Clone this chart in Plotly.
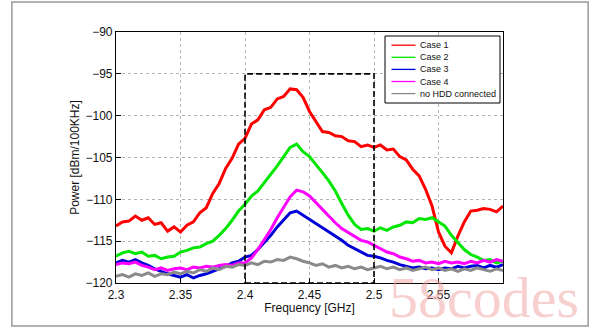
import numpy as np
import plotly.graph_objects as go

# Frequency sweep, 2.300 .. 2.600 GHz in 5 MHz steps
freq_ghz = np.round(np.linspace(2.30, 2.60, 61), 3)

case1 = [-113.2, -112.7, -112.6, -112.0, -112.5, -112.2, -113.0, -112.8, -113.8, -113.3,
         -113.9, -113.1, -112.7, -111.6, -111.0, -109.3, -108.1, -106.3, -105.1, -103.4,
         -102.7, -101.0, -100.5, -99.3, -99.0, -98.0, -97.7, -96.8, -96.9, -97.8,
         -99.5, -100.7, -101.9, -102.0, -102.4, -102.5, -103.0, -103.1, -103.7, -103.5,
         -103.8, -103.5, -104.1, -104.0, -104.9, -105.3, -106.4, -107.2, -108.8, -110.8,
         -113.9, -115.6, -116.4, -114.4, -112.7, -111.4, -111.3, -111.1, -111.2, -111.5,
         -110.8]

case2 = [-116.8, -116.4, -116.2, -116.5, -116.3, -116.8, -116.7, -117.1, -116.9, -116.8,
         -116.3, -116.1, -115.8, -115.7, -115.3, -115.0, -114.3, -113.5, -112.5, -111.4,
         -110.6, -109.6, -109.0, -108.0, -107.1, -106.0, -104.9, -103.8, -103.4, -104.3,
         -104.9, -105.8, -106.8, -107.8, -109.0, -110.5, -111.9, -113.0, -113.6, -113.5,
         -113.8, -113.4, -113.7, -113.3, -113.1, -112.7, -112.8, -112.3, -112.4, -112.2,
         -112.7, -113.2, -114.3, -115.2, -116.0, -116.6, -116.9, -117.3, -117.2, -117.6,
         -117.4]

case3 = [-117.6, -117.3, -117.5, -117.2, -117.6, -117.9, -118.3, -118.6, -118.9, -119.1,
         -119.3, -119.0, -119.4, -119.1, -118.9, -118.6, -118.3, -118.0, -117.6, -117.4,
         -116.9, -116.7, -116.0, -115.2, -114.3, -113.3, -112.4, -111.6, -111.4, -111.9,
         -112.3, -112.8, -113.3, -113.8, -114.4, -114.9, -115.5, -115.9, -116.3, -116.7,
         -116.8, -117.0, -117.3, -117.5, -117.8, -118.0, -118.2, -118.1, -118.3, -118.2,
         -118.4, -118.2, -118.3, -118.0, -118.2, -118.0, -117.9, -118.2, -117.9, -118.1,
         -117.8]

case4 = [-117.8, -117.6, -117.7, -117.5, -117.9, -118.1, -118.4, -118.2, -118.5, -118.3,
         -118.2, -118.4, -118.1, -118.2, -118.0, -118.1, -117.9, -117.8, -117.9, -117.6,
         -117.6, -117.0, -116.0, -114.8, -113.6, -112.2, -110.9, -109.7, -108.9, -109.1,
         -109.6, -110.4, -111.3, -112.0, -112.8, -113.5, -114.0, -114.5, -114.9, -115.1,
         -115.5, -115.8, -116.3, -116.5, -116.9, -117.1, -117.4, -117.3, -117.6, -117.5,
         -117.7, -117.4, -117.6, -117.5, -117.7, -117.4, -117.6, -117.3, -117.5, -117.2,
         -117.4]

no_hdd = [-119.2, -119.0, -119.3, -118.9, -119.1, -118.8, -119.2, -118.9, -119.0, -118.7,
          -118.9, -118.6, -118.8, -118.4, -118.6, -118.2, -118.4, -118.0, -118.1, -117.8,
          -117.9, -117.6, -117.8, -117.4, -117.5, -117.2, -117.3, -116.9, -117.1, -117.4,
          -117.6, -117.9, -117.7, -118.1, -117.9, -118.2, -118.0, -118.3, -118.1, -118.4,
          -118.2, -118.0, -118.3, -118.1, -118.4, -118.2, -118.5, -118.3, -118.1, -118.4,
          -118.2, -118.5, -118.3, -118.6, -118.3, -118.5, -118.2, -118.4, -118.6, -118.3,
          -118.5]

series_names = ["Case 1", "Case 2", "Case 3", "Case 4", "no HDD connected"]
series_values = [case1, case2, case3, case4, no_hdd]
series_colors = ["#ff0000", "#00e600", "#0000d8", "#ff00ff", "#8a8a8a"]

x_ticks = [2.30, 2.35, 2.40, 2.45, 2.50, 2.55]
x_tick_labels = ["2.3", "2.35", "2.4", "2.45", "2.5", "2.55"]
y_ticks = [-120, -115, -110, -105, -100, -95, -90]

# 2.4-2.5 GHz band highlighted with a dashed box
band_lo, band_hi, band_top = 2.40, 2.50, -95

FONT = "Liberation Sans, Arial, sans-serif"
TXT = "#111111"

fig = go.Figure()
for name, vals, col in zip(series_names, series_values, series_colors):
    fig.add_trace(go.Scatter(
        x=freq_ghz, y=vals, name=name, mode="lines",
        line=dict(color=col, width=3),
        showlegend=False,
    ))

axis_common = dict(
    showline=True, linecolor="black", linewidth=1.2, mirror=True,
    ticks="inside", ticklen=5, tickcolor="black",
    showgrid=True, gridcolor="#b4b4b4", griddash="dot", gridwidth=1,
    zeroline=False, tickfont=dict(family=FONT, size=12, color=TXT),
)

shapes = [
    dict(type="rect", xref="x", yref="y", x0=band_lo, x1=band_hi, y0=-120, y1=band_top,
         line=dict(color="black", width=1.6, dash="6px,3px"), fillcolor="rgba(0,0,0,0)",
         layer="above"),
    # outer frame around the whole figure
    dict(type="rect", xref="paper", yref="paper", x0=-0.269, x1=1.22,
         y0=-0.171, y1=1.12, line=dict(color="#9a9a9a", width=1.5), layer="below"),
]
annotations = []

# legend box in the upper right of the axes (paper units; axes span 387 x 251 px)
PW, PH = 387.0, 251.0
leg_x0, leg_x1 = (385 - 116) / PW, (500 - 116) / PW
leg_y1, leg_y0 = (283 - 36) / PH, (283 - 103) / PH
shapes.append(dict(type="rect", xref="paper", yref="paper", x0=leg_x0, x1=leg_x1,
                   y0=leg_y0, y1=leg_y1, line=dict(color="black", width=1),
                   fillcolor="white", layer="above"))
for k, (name, col) in enumerate(zip(series_names, series_colors)):
    yk = (283 - (45.2 + 12.1 * k)) / PH
    shapes.append(dict(type="line", xref="paper", yref="paper",
                       x0=(391.5 - 116) / PW, x1=(415.5 - 116) / PW, y0=yk, y1=yk,
                       line=dict(color=col, width=1.3), layer="above"))
    annotations.append(dict(text=name, xref="paper", yref="paper",
                            x=(418 - 116) / PW, y=yk, xanchor="left", yanchor="middle",
                            showarrow=False, font=dict(family=FONT, size=9, color=TXT)))

annotations.append(dict(text="58codes", xref="paper", yref="paper", x=1.202, y=-0.196,
                        xanchor="right", yanchor="bottom", showarrow=False,
                        font=dict(family="Liberation Serif, DejaVu Serif, serif", size=58,
                                  color="rgba(242,160,160,0.5)")))

fig.update_layout(
    width=600, height=335,
    margin=dict(l=116, r=97, t=32, b=52),
    paper_bgcolor="white", plot_bgcolor="white",
    xaxis=dict(range=[2.3, 2.6], tickvals=x_ticks, ticktext=x_tick_labels,
               title=dict(text="Frequency [GHz]", font=dict(family=FONT, size=12, color=TXT),
                          standoff=2),
               **axis_common),
    yaxis=dict(range=[-120, -90], tickvals=y_ticks,
               title=dict(text="Power [dBm/100KHz]", font=dict(family=FONT, size=12, color=TXT),
                          standoff=3),
               **axis_common),
    showlegend=False,
    shapes=shapes,
    annotations=annotations,
)

fig.write_html("out.html")
